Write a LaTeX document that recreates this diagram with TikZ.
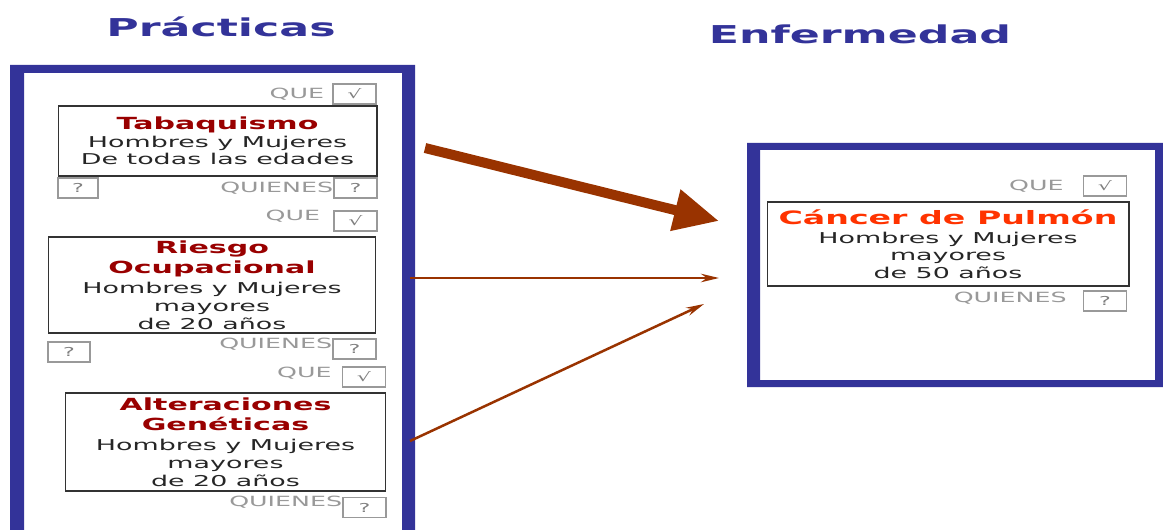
\documentclass[tikz,border=0pt]{standalone}
\usepackage{fontspec}
\newfontfamily\comic[FakeStretch=1.8]{DejaVu Sans}
\usetikzlibrary{arrows.meta, positioning}
\definecolor{frameblue}{HTML}{333399}
\definecolor{titred}{HTML}{990000}
\definecolor{cancred}{HTML}{FF3300}
\definecolor{arrowbrown}{HTML}{993300}
\newcommand{\cab}[1]{{\color{titred}\bfseries\fontsize{9.5}{12.5}\selectfont #1}}

\begin{document}
\begin{tikzpicture}[x=0.02cm, y=-0.02cm, font=\comic,
  frame/.style={fill=frameblue, even odd rule},
  box/.style={draw=black!80, line width=0.6pt, align=center, inner sep=0pt,
    text=black!85, font=\comic\fontsize{8.5}{10}\selectfont},
  tag/.style={text=black!40, inner sep=0pt, font=\comic\fontsize{8}{9}\selectfont},
  chkbox/.style={draw=black!40, line width=0.6pt, minimum width=0.86cm,
    minimum height=0.4cm, inner sep=0pt, text=black!50, font=\comic\fontsize{7}{8}\selectfont},
  title/.style={text=frameblue, font=\comic\bfseries\fontsize{14}{16}\selectfont}]
\useasboundingbox (0,0) rectangle (1163,530);
\node[title] (tprac) at (221,27) {Prácticas};
\node[title] (tenf) at (860,34) {Enfermedad};
\path[frame] (10,65) rectangle (415,545) (24,73) rectangle (402,545);
\path[frame] (747,143) rectangle (1163,387) (760,150) rectangle (1155,380);
%
\node[box, minimum width=6.38cm, minimum height=1.4cm] (tabaq) at (217.5,141)
  {\cab{Tabaquismo}\\Hombres y Mujeres\\De todas las edades};
\node[chkbox] (si1) at (354.5,94) {√};
\node[tag, left=0.16cm of si1] (que1) {QUE};
\node[chkbox, minimum width=0.8cm] (nl1) at (78,188) {?};
\node[chkbox] (no1) at (355.5,188) {?};
\node[tag, left=0pt of no1] (quien1) {QUIENES};
%
\node[box, minimum width=6.56cm, minimum height=1.92cm] (riesgo) at (212,285)
  {\cab{Riesgo}\\[1.5pt]\cab{Ocupacional}\\[1.5pt]Hombres y Mujeres\\mayores\\de 20 años};
\node[chkbox] (si2) at (355.5,221) {√};
\node[tag, left=0.26cm of si2, yshift=0.1cm] (que2) {QUE};
\node[chkbox, minimum width=0.84cm] (nl2) at (69,352) {?};
\node[chkbox] (no2) at (354.5,349) {?};
\node[tag, left=0pt of no2, yshift=0.1cm] (quien2) {QUIENES};
%
\node[box, minimum width=6.42cm, minimum height=1.96cm] (genet) at (225.5,442)
  {\cab{Alteraciones}\\[1.5pt]\cab{Genéticas}\\[1.5pt]Hombres y Mujeres\\mayores\\de 20 años};
\node[chkbox] (si3) at (364,377) {√};
\node[tag, left=0.2cm of si3, yshift=0.08cm] (que3) {QUE};
\node[chkbox] (no3) at (364.5,507.5) {?};
\node[tag, left=0pt of no3, yshift=0.1cm] (quien3) {QUIENES};
%
\node[box, minimum width=7.24cm, minimum height=1.68cm] (cancer) at (948,244)
  {{\color{cancred}\bfseries\fontsize{10.5}{12}\selectfont Cáncer de Pulmón}\\[1pt]Hombres y Mujeres\\mayores\\de 50 años};
\node[chkbox] (si4) at (1105,186) {√};
\node[tag, left=0.38cm of si4] (que4) {QUE};
\node[chkbox] (no4) at (1105,301) {?};
\node[tag, left=0.32cm of no4, yshift=0.06cm] (quien4) {QUIENES};
%
\coordinate (a1) at (425,148); \coordinate (b1) at (719,221);
\coordinate (a2) at (410,278); \coordinate (b2) at (719,278);
\coordinate (a3) at (410,441); \coordinate (b3) at (704,304);
\draw[arrowbrown, line width=0.2cm, -{Triangle[length=0.9cm, width=0.8cm]}] (a1) -- (b1);
\draw[arrowbrown, line width=0.05cm, -{Stealth[length=0.36cm, width=0.17cm]}] (a2) -- (b2);
\draw[arrowbrown, line width=0.05cm, -{Stealth[length=0.36cm, width=0.17cm]}] (a3) -- (b3);
\end{tikzpicture}
\end{document}
